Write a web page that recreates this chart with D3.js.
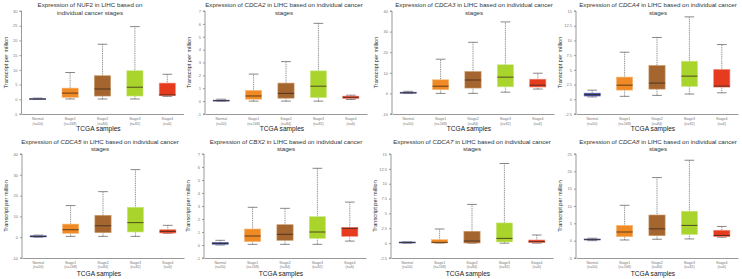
<!DOCTYPE html>
<html lang="en">
<head>
  <meta charset="UTF-8">
  <title>LIHC stages</title>
  <script src="https://d3js.org/d3.v7.min.js"></script>
  <style>
    * { margin: 0; padding: 0; box-sizing: border-box; }
    body { background: #fff; font-family: "Liberation Sans", Arial, sans-serif; }
  </style>
</head>
<body>
  <div id="chart"></div>
  <script>
    // categories
    const stages = ["Normal", "Stage1", "Stage2", "Stage3", "Stage4"];
    const stageN = ["(n=50)", "(n=168)", "(n=84)", "(n=82)", "(n=6)"];
    const stageColors = ["#2e3f95", "#f08a24", "#a4652f", "#a8d42c", "#e63b1f"];
    const stageStroke = ["#6f7cc0", "#f7b878", "#c99968", "#cbe783", "#f08a78"];

    const genes = ["NUF2", "CDCA2", "CDCA3", "CDCA4", "CDCA5", "CBX2", "CDCA7", "CDCA8"];
    const titleLine2 = ["individual cancer stages", "stages", "stages", "stages", "stages", "stages", "stages", "stages"];

    // y tick labels per gene
    const nuf2Ticks = [-5, 0, 5, 10, 15, 20, 25, 30];
    const cdca2Ticks = [-1, 0, 1, 2, 3, 4, 5, 6, 7];
    const cdca3Ticks = [-10, 0, 10, 20, 30, 40];
    const cdca4Ticks = [-2.5, 0, 2.5, 5, 7.5, 10, 12.5, 15];
    const cdca5Ticks = [-10, 0, 10, 20, 30, 40];
    const cbx2Ticks = [-1, 0, 1, 2, 3, 4, 5, 6, 7];
    const cdca7Ticks = [-2.5, 0, 2.5, 5, 7.5, 10, 12.5, 15];
    const cdca8Ticks = [-5, 0, 5, 10, 15, 20, 25];

    // box stats per stage: [min, q1, median, q3, max]
    const nuf2 = [[0, 0.02, 0.1, 0.25, 0.4], [0.1, 0.65, 2.1, 3.8, 9.1], [0.1, 1.1, 3.5, 8.0, 18.7], [0.1, 1.1, 4.1, 9.7, 24.7], [1.0, 1.2, 1.5, 5.5, 8.5]];
    const cdca2 = [[0, 0.01, 0.04, 0.08, 0.15], [0, 0.15, 0.4, 0.83, 2.1], [0, 0.23, 0.6, 1.4, 3.07], [0, 0.28, 1.16, 2.35, 6.04], [0.13, 0.2, 0.3, 0.39, 0.46]];
    const cdca3 = [[0, 0.1, 0.3, 0.6, 1.0], [0, 1.8, 3.5, 6.6, 16.6], [0, 2.6, 6.5, 10.6, 24.8], [0.6, 3.2, 7.9, 13.9, 34.7], [2.1, 3.1, 4.0, 6.9, 9.8]];
    const cdca4 = [[0.4, 0.55, 0.8, 1.05, 1.55], [0.5, 1.56, 2.4, 3.77, 8.0], [0.66, 1.73, 2.75, 5.74, 10.5], [0.89, 2.18, 3.93, 6.47, 14.0], [1.1, 2.07, 2.24, 5.07, 9.3]];
    const cdca5 = [[0, 0.1, 0.4, 0.7, 1.0], [0.4, 1.85, 3.6, 6.3, 15.2], [0.4, 2.2, 5.5, 10.5, 21.9], [0.4, 2.5, 7.0, 14.4, 32.5], [1.85, 2.0, 2.8, 3.6, 5.7]];
    const cbx2 = [[0, 0.05, 0.13, 0.2, 0.36], [0.05, 0.26, 0.69, 1.23, 2.9], [0.05, 0.36, 0.82, 1.56, 2.82], [0.05, 0.51, 1.0, 2.18, 5.9], [0.3, 0.67, 1.28, 1.36, 3.3]];
    const cdca7 = [[0, 0.02, 0.1, 0.2, 0.22], [0, 0.02, 0.13, 0.58, 2.38], [0, 0.02, 0.36, 1.99, 6.52], [0, 0.2, 0.8, 3.4, 13.4], [0, 0.08, 0.25, 0.53, 1.37]];
    const cdca8 = [[0, 0.2, 0.3, 0.5, 0.7], [0.2, 1.15, 2.5, 4.4, 10.2], [0.4, 1.44, 3.4, 7.4, 18.2], [0.5, 1.8, 4.4, 8.5, 23.2], [1.0, 1.15, 1.5, 3.0, 4.1]];

    const allTicks = [nuf2Ticks, cdca2Ticks, cdca3Ticks, cdca4Ticks, cdca5Ticks, cbx2Ticks, cdca7Ticks, cdca8Ticks];
    const allStats = [nuf2, cdca2, cdca3, cdca4, cdca5, cbx2, cdca7, cdca8];

    // layout of the 4x2 grid
    const W = 742, H = 279;
    const colLeft = [0, 186, 372, 556];
    const axisOff = [[21.5, 19, 20, 20], [22, 18, 19, 20]];
    const rowPlot = [[11, 114], [154, 258]];
    const rowTitle = [[7, 15], [143.5, 151]];
    const rowXLab = [[120, 124.5], [263.5, 268]];
    const rowSamples = [131, 276];
    const titleCx = [[90, 98, 102, 102], [100, 100, 100, 102]];
    const plotW = 162;

    const svg = d3.select("#chart").append("svg")
      .attr("width", W).attr("height", H)
      .style("font-family", '"Liberation Sans", Arial, sans-serif');

    genes.forEach((gene, i) => {
      const row = Math.floor(i / 4), col = i % 4;
      const x0 = colLeft[col] + axisOff[row][col];
      const [top, bottom] = rowPlot[row];
      const ticks = allTicks[i];
      const stats = allStats[i];

      const g = svg.append("g");

      const x = d3.scaleBand().domain(stages).range([x0, x0 + plotW]);
      const y = d3.scaleLinear().domain([ticks[0], ticks[ticks.length - 1]]).range([bottom, top]);

      // title
      const t = g.append("text")
        .attr("x", colLeft[col] + titleCx[row][col])
        .attr("y", rowTitle[row][0])
        .attr("text-anchor", "middle")
        .style("font-size", "6.2px").style("fill", "#333");
      t.append("tspan").text("Expression of ");
      t.append("tspan").style("font-style", i === 0 ? "normal" : "italic").text(gene);
      t.append("tspan").text(i === 0 ? " in LIHC based on" : " in LIHC based on individual cancer");
      g.append("text")
        .attr("x", colLeft[col] + titleCx[row][col])
        .attr("y", rowTitle[row][1])
        .attr("text-anchor", "middle")
        .style("font-size", "6.2px").style("fill", "#333")
        .text(titleLine2[i]);

      // y axis
      const yAxis = g.append("g")
        .attr("transform", `translate(${x0},0)`)
        .call(d3.axisLeft(y).tickValues(ticks).tickSize(2).tickPadding(2)
          .tickFormat(d => String(d)));
      yAxis.selectAll("text").style("font-size", "4px").style("fill", "#777");
      yAxis.selectAll("line").attr("stroke", "#999");
      yAxis.select(".domain").attr("stroke", "#999").attr("d", `M-2,${bottom}H0V${top}H-2`);

      // x axis
      const xAxis = g.append("g")
        .attr("transform", `translate(0,${bottom})`)
        .call(d3.axisBottom(x).tickSize(0).tickFormat(""));
      xAxis.select(".domain").attr("stroke", "#999");

      stages.forEach((s, k) => {
        const cx = x(s) + x.bandwidth() / 2;
        g.append("text").attr("x", cx).attr("y", rowXLab[row][0])
          .attr("text-anchor", "middle").style("font-size", "3.6px").style("fill", "#777").text(s);
        g.append("text").attr("x", cx).attr("y", rowXLab[row][1])
          .attr("text-anchor", "middle").style("font-size", "3.6px").style("fill", "#777").text(stageN[k]);
      });

      g.append("text")
        .attr("x", x0 + plotW / 2 - 4).attr("y", rowSamples[row])
        .attr("text-anchor", "middle")
        .style("font-size", "6.6px").style("fill", "#222")
        .text("TCGA samples");

      g.append("text")
        .attr("transform", `translate(${x0 - 14},${(top + bottom) / 2}) rotate(-90)`)
        .attr("text-anchor", "middle")
        .style("font-size", "5.6px").style("fill", "#222")
        .text("Transcript per million");

      // boxes
      const bw = x.bandwidth() * 0.5;
      const boxes = g.selectAll(".box").data(stats).enter().append("g").attr("class", "box");

      boxes.append("line")
        .attr("x1", (d, k) => x(stages[k]) + x.bandwidth() / 2)
        .attr("x2", (d, k) => x(stages[k]) + x.bandwidth() / 2)
        .attr("y1", d => y(d[0])).attr("y2", d => y(d[4]))
        .attr("stroke", "#555").attr("stroke-width", 0.7)
        .attr("stroke-dasharray", "1,0.8");

      [0, 4].forEach(j => {
        boxes.append("line")
          .attr("x1", (d, k) => x(stages[k]) + x.bandwidth() / 2 - bw * 0.3)
          .attr("x2", (d, k) => x(stages[k]) + x.bandwidth() / 2 + bw * 0.3)
          .attr("y1", d => y(d[j])).attr("y2", d => y(d[j]))
          .attr("stroke", "#555").attr("stroke-width", 0.7);
      });

      boxes.append("rect")
        .attr("x", (d, k) => x(stages[k]) + x.bandwidth() / 2 - bw / 2)
        .attr("width", bw)
        .attr("y", d => y(d[3]))
        .attr("height", d => Math.max(y(d[1]) - y(d[3]), 1))
        .attr("fill", (d, k) => stageColors[k])
        .attr("stroke", (d, k) => stageStroke[k])
        .attr("stroke-width", 0.6);

      boxes.append("line")
        .attr("x1", (d, k) => x(stages[k]) + x.bandwidth() / 2 - bw / 2)
        .attr("x2", (d, k) => x(stages[k]) + x.bandwidth() / 2 + bw / 2)
        .attr("y1", d => y(d[2])).attr("y2", d => y(d[2]))
        .attr("stroke", "#3a2a1c").attr("stroke-width", 0.8);
    });
  </script>
</body>
</html>
